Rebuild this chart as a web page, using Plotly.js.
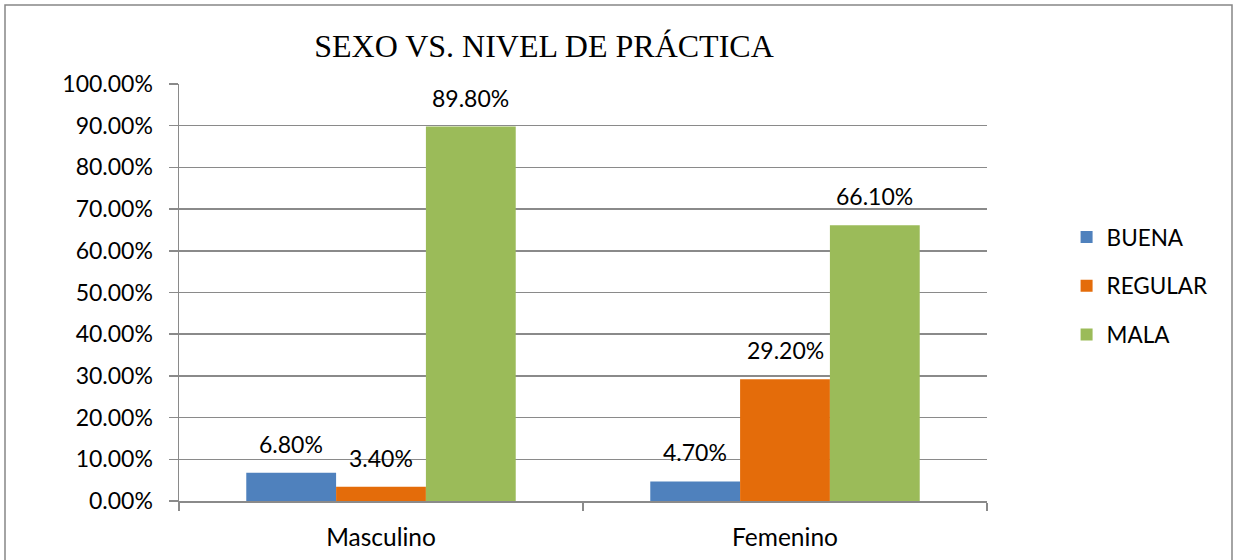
<!DOCTYPE html>
<html>
<head>
<meta charset="utf-8">
<script src="https://cdn.plot.ly/plotly-3.0.1.min.js"></script>
<style>
  html, body { margin: 0; padding: 0; background: #ffffff; }
  #chart { width: 1235px; height: 560px; }
</style>
</head>
<body>
<div id="chart"></div>
<script>
// ---- data ----
const categories = ["Masculino", "Femenino"];
const seriesNames = ["BUENA", "REGULAR", "MALA"];
const buena   = [0.068, 0.047];
const regular = [0.034, 0.292];
const mala    = [0.898, 0.661];
const yTickValues = [0, 0.1, 0.2, 0.3, 0.4, 0.5, 0.6, 0.7, 0.8, 0.9, 1.0];
const chartTitle = "SEXO VS. NIVEL DE PRÁCTICA";

// ---- styles ----
const colors = ["#4f81bd", "#e46c0a", "#9bbb59"];
const seriesValues = [buena, regular, mala];
const bodyFont = "Lato, 'Open Sans', sans-serif";
const gridColor = "#8a8a8a";
const bargap = 0.333;

const traces = seriesValues.map((vals, j) => ({
  type: "bar",
  name: seriesNames[j],
  x: categories,
  y: vals,
  marker: { color: colors[j], line: { width: 0 } },
  textposition: "none",
  hoverinfo: "x+y+name",
  legendgroup: "g" + j
}));

// data labels above bars, positioned from the data
const barW = (1 - bargap) / seriesValues.length;
const annotations = [];
seriesValues.forEach((vals, j) => {
  vals.forEach((v, i) => {
    annotations.push({
      x: i + (j - (seriesValues.length - 1) / 2) * barW,
      y: v,
      xref: "x", yref: "y",
      text: (v * 100).toFixed(2) + "%",
      showarrow: false,
      yanchor: "bottom",
      yshift: 13,
      font: { family: bodyFont, size: 23, color: "#000000" }
    });
  });
});

const layout = {
  width: 1235,
  height: 560,
  margin: { l: 179, r: 248, t: 84, b: 59, pad: 0 },
  paper_bgcolor: "#ffffff",
  plot_bgcolor: "#ffffff",
  barmode: "group",
  bargap: bargap,
  bargroupgap: 0,
  title: {
    text: chartTitle,
    font: { family: "'Liberation Serif', 'Times New Roman', serif", size: 32, color: "#000000" },
    x: 0.4517, xref: "paper", xanchor: "center",
    y: 0.918, yref: "container", yanchor: "middle"
  },
  xaxis: {
    type: "category",
    tickson: "boundaries",
    ticks: "outside",
    ticklen: 8,
    tickcolor: gridColor,
    tickwidth: 1.5,
    showline: true,
    linecolor: gridColor,
    linewidth: 2,
    showgrid: false,
    tickfont: { family: bodyFont, size: 24.5, color: "#000000" },
    ticklabelstandoff: 14,
    fixedrange: true
  },
  yaxis: {
    range: [0, 1],
    tickvals: yTickValues,
    tickformat: ".2%",
    ticks: "outside",
    ticklen: 9,
    tickcolor: gridColor,
    tickwidth: 1.5,
    showline: true,
    linecolor: gridColor,
    linewidth: 1.5,
    showgrid: true,
    gridcolor: gridColor,
    gridwidth: 1.5,
    zeroline: false,
    tickfont: { family: bodyFont, size: 23, color: "#000000" },
    ticklabelstandoff: 11,
    fixedrange: true
  },
  legend: {
    x: 1.0985, xanchor: "left",
    y: 0.684, yanchor: "top",
    font: { family: bodyFont, size: 22.5, color: "#000000" },
    tracegroupgap: 16.5,
    bgcolor: "rgba(0,0,0,0)",
    borderwidth: 0
  },
  showlegend: true,
  annotations: annotations,
  shapes: [{
    type: "rect",
    xref: "paper", yref: "paper",
    x0: (5 - 179) / 808, x1: (1232 - 179) / 808,
    y0: (501 - 570) / 417, y1: (501 - 5) / 417,
    line: { color: "#868686", width: 1.5 },
    fillcolor: "rgba(0,0,0,0)",
    layer: "below"
  }]
};

Plotly.newPlot("chart", traces, layout, { displayModeBar: false, staticPlot: true });
</script>
</body>
</html>
